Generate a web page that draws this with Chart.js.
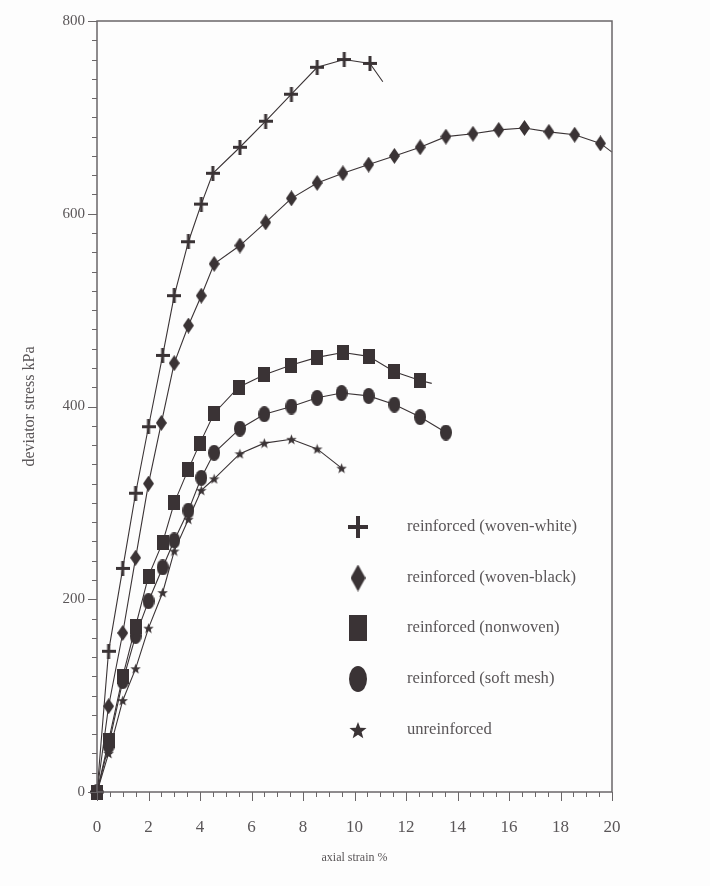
<!DOCTYPE html>
<html>
<head>
<meta charset="utf-8">
<script src="https://cdn.jsdelivr.net/npm/chart.js@4/dist/chart.umd.min.js"></script>
<style>
  html, body { margin: 0; padding: 0; background: #fdfdfd; }
  #wrap { width: 710px; height: 886px; }
</style>
</head>
<body>
<div id="wrap"><canvas id="chart"></canvas></div>
<script>
// axial strain % / deviator stress kPa
const seriesNames = [
    'reinforced (woven-white)',
    'reinforced (woven-black)',
    'reinforced (nonwoven)',
    'reinforced (soft mesh)',
    'unreinforced'
];

const wovenWhiteX = [0, 0.45, 1, 1.5, 2, 2.55, 3, 3.55, 4.05, 4.5, 5.55, 6.55, 7.55, 8.55, 9.6, 10.6, 11.1];
const wovenWhiteY = [0, 146, 232, 310, 379, 453, 515, 571, 610, 642, 669, 696, 724, 752, 760, 756, 737];

const wovenBlackX = [0, 0.45, 1, 1.5, 2, 2.5, 3, 3.55, 4.05, 4.55, 5.55, 6.55, 7.55, 8.55, 9.55, 10.55, 11.55, 12.55, 13.55, 14.6, 15.6, 16.6, 17.55, 18.55, 19.55, 20];
const wovenBlackY = [0, 89, 165, 243, 320, 383, 445, 484, 515, 548, 567, 591, 616, 632, 642, 651, 660, 669, 680, 683, 687, 689, 685, 682, 673, 664];

const nonwovenX = [0, 0.45, 1, 1.5, 2, 2.55, 3, 3.55, 4, 4.55, 5.5, 6.5, 7.55, 8.55, 9.55, 10.55, 11.55, 12.55, 13];
const nonwovenY = [0, 53, 120, 172, 224, 259, 300, 335, 362, 393, 420, 433, 443, 451, 456, 452, 436, 427, 424];

const softMeshX = [0, 0.45, 1, 1.5, 2, 2.55, 3, 3.55, 4.05, 4.55, 5.55, 6.5, 7.55, 8.55, 9.5, 10.55, 11.55, 12.55, 13.55];
const softMeshY = [0, 48, 115, 162, 198, 233, 261, 292, 326, 352, 377, 392, 400, 409, 414, 411, 402, 389, 373];

const unreinforcedX = [0, 0.45, 1, 1.5, 2, 2.55, 3, 3.55, 4.05, 4.55, 5.55, 6.5, 7.55, 8.55, 9.5];
const unreinforcedY = [0, 40, 95, 128, 170, 207, 250, 283, 313, 325, 351, 362, 366, 356, 336];

// last point of these curves is only a line end, no marker
const openEnded = [true, true, true, false, false];

const xTicks = [0, 2, 4, 6, 8, 10, 12, 14, 16, 18, 20];
const yTicks = [0, 200, 400, 600, 800];

const INK = '#3a3335';
const AXIS = '#6a6668';
const TEXT = '#5a5658';
const SERIF = '"Liberation Serif", "DejaVu Serif", serif';

// Small canvases used as point styles
function makeMarker(kind, w, h) {
    const c = document.createElement('canvas');
    c.width = w;
    c.height = h;
    const ctx = c.getContext('2d');
    ctx.fillStyle = INK;
    ctx.strokeStyle = INK;
    if (kind === 'plus') {
        const t = Math.max(2, Math.round(w / 5));
        ctx.fillRect((w - t) / 2, 0, t, h);
        ctx.fillRect(0, (h - t) / 2, w, t);
    } else if (kind === 'diamond') {
        ctx.beginPath();
        ctx.moveTo(w / 2, 0);
        ctx.lineTo(w, h / 2);
        ctx.lineTo(w / 2, h);
        ctx.lineTo(0, h / 2);
        ctx.closePath();
        ctx.fill();
    } else if (kind === 'square') {
        ctx.fillRect(0, 0, w, h);
    } else if (kind === 'circle') {
        ctx.beginPath();
        ctx.ellipse(w / 2, h / 2, w / 2, h / 2, 0, 0, Math.PI * 2);
        ctx.fill();
    } else if (kind === 'star') {
        const cx = w / 2, cy = h / 2 + h * 0.05, R = w / 2, r = R * 0.42;
        ctx.beginPath();
        for (let i = 0; i < 10; i++) {
            const rad = i % 2 === 0 ? R : r;
            const a = -Math.PI / 2 + i * Math.PI / 5;
            const px = cx + rad * Math.cos(a), py = cy + rad * Math.sin(a);
            if (i === 0) ctx.moveTo(px, py); else ctx.lineTo(px, py);
        }
        ctx.closePath();
        ctx.fill();
    }
    return c;
}

const plotMarkers = [
    makeMarker('plus', 14, 15),
    makeMarker('diamond', 11, 16),
    makeMarker('square', 12, 15),
    makeMarker('circle', 12, 16),
    makeMarker('star', 11, 11)
];
const legendMarkers = [
    makeMarker('plus', 20, 22),
    makeMarker('diamond', 15, 27),
    makeMarker('square', 18, 26),
    makeMarker('circle', 18, 26),
    makeMarker('star', 18, 18)
];

const seriesX = [wovenWhiteX, wovenBlackX, nonwovenX, softMeshX, unreinforcedX];
const seriesY = [wovenWhiteY, wovenBlackY, nonwovenY, softMeshY, unreinforcedY];

function toPoints(xs, ys) {
    return xs.map((x, i) => ({x: x, y: ys[i]}));
}

const datasets = seriesNames.map((name, k) => ({
    label: name,
    data: toPoints(seriesX[k], seriesY[k]),
    borderColor: INK,
    borderWidth: 1.1,
    backgroundColor: INK,
    tension: 0,
    clip: false,
    pointStyle: ctx => (openEnded[k] && ctx.dataIndex === seriesX[k].length - 1) ? false : plotMarkers[k],
    pointRadius: 6,
    pointHoverRadius: 6
}));

// Axis lines, frame and tick marks (minor and major)
const framePlugin = {
    id: 'frame',
    afterDraw(chart) {
        const {ctx, chartArea: a, scales} = chart;
        ctx.save();
        ctx.strokeStyle = AXIS;
        ctx.lineWidth = 1.5;
        ctx.strokeRect(a.left, a.top, a.right - a.left, a.bottom - a.top);

        ctx.lineWidth = 1;
        ctx.beginPath();
        for (let v = 0; v <= 20.001; v += 0.5) {
            const px = Math.round(scales.x.getPixelForValue(v)) + 0.5;
            const len = Math.abs(v % 2) < 0.01 ? 9 : 5;
            ctx.moveTo(px, a.bottom);
            ctx.lineTo(px, a.bottom + len);
        }
        for (let v = 0; v <= 800; v += 20) {
            const py = Math.round(scales.y.getPixelForValue(v)) + 0.5;
            const len = v % 200 === 0 ? 9 : 5;
            ctx.moveTo(a.left, py);
            ctx.lineTo(a.left - len, py);
        }
        ctx.stroke();
        ctx.restore();
    }
};

// Legend drawn inside the plot, lower right
const innerLegend = {
    id: 'innerLegend',
    afterDraw(chart) {
        const {ctx} = chart;
        const markerX = 358;
        const textX = 407;
        const rowY = [527, 578, 628, 679, 730];
        ctx.save();
        ctx.font = '16.6px ' + SERIF;
        ctx.fillStyle = TEXT;
        ctx.textBaseline = 'middle';
        seriesNames.forEach((name, k) => {
            const m = legendMarkers[k];
            ctx.drawImage(m, markerX - m.width / 2, rowY[k] - m.height / 2);
            ctx.fillText(name, textX, rowY[k]);
        });
        ctx.restore();
    }
};

new Chart(document.getElementById('chart'), {
    type: 'line',
    data: {datasets: datasets},
    options: {
        responsive: true,
        maintainAspectRatio: false,
        animation: false,
        layout: {padding: {top: 21, right: 98, bottom: 0, left: 0}},
        plugins: {
            legend: {display: false},
            tooltip: {enabled: false}
        },
        scales: {
            x: {
                type: 'linear',
                min: 0,
                max: 20,
                afterFit: s => { s.height = 94; },
                afterBuildTicks: s => { s.ticks = xTicks.map(v => ({value: v})); },
                grid: {display: false, drawTicks: false},
                border: {display: false},
                ticks: {
                    color: TEXT,
                    padding: 25,
                    maxRotation: 0,
                    font: {family: SERIF, size: 17}
                },
                title: {
                    display: true,
                    text: 'axial strain %',
                    color: TEXT,
                    font: {family: SERIF, size: 12},
                    padding: {top: 0, bottom: 21}
                }
            },
            y: {
                type: 'linear',
                min: 0,
                max: 800,
                afterFit: s => { s.width = 97; },
                afterBuildTicks: s => { s.ticks = yTicks.map(v => ({value: v})); },
                grid: {display: false, drawTicks: false},
                border: {display: false},
                ticks: {
                    color: TEXT,
                    padding: 12,
                    font: {family: SERIF, size: 15}
                },
                title: {
                    display: true,
                    text: 'deviator stress kPa',
                    color: TEXT,
                    font: {family: SERIF, size: 16},
                    padding: {top: 20, bottom: 0}
                }
            }
        }
    },
    plugins: [framePlugin, innerLegend]
});
</script>
</body>
</html>
